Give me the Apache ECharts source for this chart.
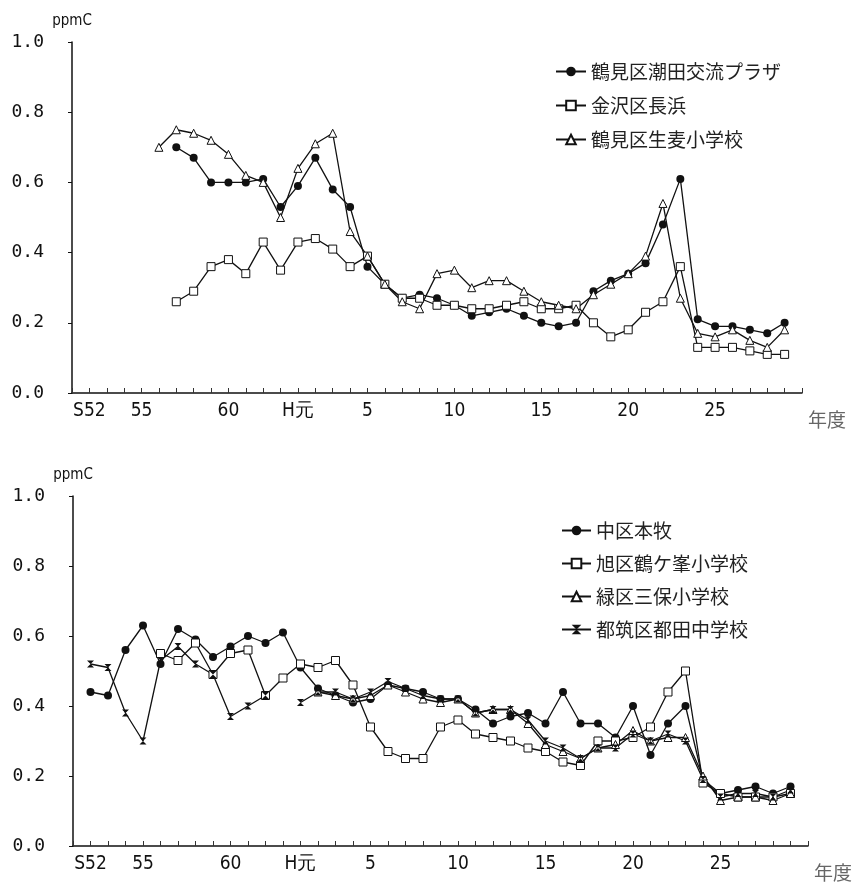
<!DOCTYPE html>
<html>
<head>
<meta charset="utf-8">
<script src="https://cdn.jsdelivr.net/npm/echarts@6/dist/echarts.min.js"></script>
<style>
	html, body { margin: 0; padding: 0; background: #fff; }
	#chart { width: 853px; height: 888px; }
</style>
</head>
<body>
<div id="chart"></div>
<script>
// 年度 (S52 = 1977 ... H29 = 2017)
var years = [1977, 1978, 1979, 1980, 1981, 1982, 1983, 1984, 1985, 1986,
	1987, 1988, 1989, 1990, 1991, 1992, 1993, 1994, 1995, 1996,
	1997, 1998, 1999, 2000, 2001, 2002, 2003, 2004, 2005, 2006,
	2007, 2008, 2009, 2010, 2011, 2012, 2013, 2014, 2015, 2016, 2017];

var tickYears = [1977, 1980, 1985, 1989, 1993, 1998, 2003, 2008, 2013];
var tickLabels = ['S52', '55', '60', 'H元', '5', '10', '15', '20', '25'];

// 上段
var ushioda = [null, null, null, null, null,
	0.70, 0.67, 0.60, 0.60, 0.60, 0.61, 0.53, 0.59, 0.67, 0.58,
	0.53, 0.36, 0.31, 0.27, 0.28, 0.27, 0.25, 0.22, 0.23, 0.24,
	0.22, 0.20, 0.19, 0.20, 0.29, 0.32, 0.34, 0.37, 0.48, 0.61,
	0.21, 0.19, 0.19, 0.18, 0.17, 0.20];
var nagahama = [null, null, null, null, null,
	0.26, 0.29, 0.36, 0.38, 0.34, 0.43, 0.35, 0.43, 0.44, 0.41,
	0.36, 0.39, 0.31, 0.27, 0.27, 0.25, 0.25, 0.24, 0.24, 0.25,
	0.26, 0.24, 0.24, 0.25, 0.20, 0.16, 0.18, 0.23, 0.26, 0.36,
	0.13, 0.13, 0.13, 0.12, 0.11, 0.11];
var namamugi = [null, null, null, null,
	0.70, 0.75, 0.74, 0.72, 0.68, 0.62, 0.60, 0.50, 0.64, 0.71, 0.74,
	0.46, 0.39, 0.31, 0.26, 0.24, 0.34, 0.35, 0.30, 0.32, 0.32,
	0.29, 0.26, 0.25, 0.24, 0.28, 0.31, 0.34, 0.39, 0.54, 0.27,
	0.17, 0.16, 0.18, 0.15, 0.13, 0.18];

// 下段
var honmoku = [0.44, 0.43, 0.56, 0.63, 0.52, 0.62, 0.59, 0.54, 0.57, 0.60,
	0.58, 0.61, 0.51, 0.45, 0.43, 0.41, 0.42, 0.46, 0.45, 0.44,
	0.42, 0.42, 0.39, 0.35, 0.37, 0.38, 0.35, 0.44, 0.35, 0.35,
	0.31, 0.40, 0.26, 0.35, 0.40, 0.19, 0.15, 0.16, 0.17, 0.15, 0.17];
var tsurugamine = [null, null, null, null,
	0.55, 0.53, 0.58, 0.49, 0.55, 0.56,
	0.43, 0.48, 0.52, 0.51, 0.53, 0.46, 0.34, 0.27, 0.25, 0.25,
	0.34, 0.36, 0.32, 0.31, 0.30, 0.28, 0.27, 0.24, 0.23, 0.30,
	0.30, 0.31, 0.34, 0.44, 0.50, 0.18, 0.15, 0.14, 0.14, 0.14, 0.15];
var miho = [null, null, null, null, null, null, null, null, null, null,
	null, null, null, 0.44, 0.43, 0.42, 0.43, 0.46, 0.44, 0.42,
	0.41, 0.42, 0.38, 0.39, 0.39, 0.35, 0.29, 0.27, 0.25, 0.28,
	0.29, 0.33, 0.30, 0.31, 0.31, 0.20, 0.13, 0.14, 0.14, 0.13, 0.15];
var tsuda = [0.52, 0.51, 0.38, 0.30, 0.53, 0.57, 0.52, 0.49, 0.37, 0.40,
	0.43, null, 0.41, 0.44, 0.44, 0.42, 0.44, 0.47, 0.45, 0.43,
	0.42, 0.42, 0.38, 0.39, 0.39, 0.36, 0.30, 0.28, 0.25, 0.28,
	0.28, 0.32, 0.30, 0.32, 0.30, 0.19, 0.14, 0.15, 0.15, 0.14, 0.16];

function toPairs(values) {
	return years.map(function (y, i) { return [y, values[i]]; });
}

function xLabel(v) {
	var idx = tickYears.indexOf(v);
	return idx >= 0 ? tickLabels[idx] : '';
}

var lineColor = '#111';
var hourglass = 'path://M0,0L10,0L0,10L10,10Z';

function makeSeries(name, values, symbol, hollow, size, axisIndex) {
	return {
		name: name,
		type: 'line',
		xAxisIndex: axisIndex,
		yAxisIndex: axisIndex,
		data: toPairs(values),
		symbol: symbol,
		symbolSize: size,
		showAllSymbol: true,
		connectNulls: false,
		lineStyle: { color: lineColor, width: 1.3 },
		itemStyle: hollow
			? { color: '#fff', borderColor: lineColor, borderWidth: 1 }
			: { color: lineColor, borderColor: lineColor, borderWidth: 0 },
		emphasis: { disabled: true },
		z: 3
	};
}

function makeXAxis(gridIndex) {
	return {
		gridIndex: gridIndex,
		type: 'value',
		min: 1976,
		max: 2018,
		interval: 1,
		name: '年度',
		nameLocation: 'end',
		nameGap: 6,
		nameTextStyle: {
			fontFamily: 'Noto Sans CJK JP',
			fontSize: 19,
			color: '#666',
			verticalAlign: 'top',
			padding: [17, 0, 0, 0]
		},
		splitLine: { show: false },
		axisLine: { onZero: false, lineStyle: { color: '#111', width: 1.5 } },
		axisTick: { inside: true, length: 5, lineStyle: { color: '#333', width: 1 } },
		axisLabel: {
			formatter: xLabel,
			margin: 9,
			fontFamily: "'DejaVu Sans Condensed', sans-serif",
			fontSize: 19,
			color: '#111',
			showMinLabel: true,
			showMaxLabel: true
		}
	};
}

function makeYAxis(gridIndex) {
	return {
		gridIndex: gridIndex,
		type: 'value',
		min: 0,
		max: 1,
		interval: 0.2,
		name: 'ppmC',
		nameLocation: 'end',
		nameGap: 13,
		nameTextStyle: {
			fontFamily: 'DejaVu Sans Condensed',
			fontSize: 15,
			color: '#111',
			align: 'center'
		},
		splitLine: { show: false },
		axisLine: { show: true, lineStyle: { color: '#111', width: 1.5 } },
		axisTick: { show: true, length: 4, lineStyle: { color: '#111' } },
		axisLabel: {
			formatter: function (v) { return v.toFixed(1); },
			margin: 28,
			fontFamily: 'DejaVu Sans Mono',
			fontSize: 18,
			color: '#111'
		}
	};
}

var myChart = echarts.init(document.getElementById('chart'), null, { renderer: 'canvas' });

var option = {
	animation: false,
	backgroundColor: '#fff',
	grid: [
		{ left: 72, top: 42, width: 730, height: 351 },
		{ left: 73, top: 496, width: 739, height: 350 }
	],
	xAxis: [makeXAxis(0), makeXAxis(1)],
	yAxis: [makeYAxis(0), makeYAxis(1)],
	legend: [
		{
			orient: 'vertical',
			left: 555,
			top: 62,
			padding: 0,
			itemWidth: 30,
			itemHeight: 12,
			itemGap: 15,
			selectedMode: false,
			textStyle: { fontFamily: 'Noto Sans CJK JP', fontSize: 19, color: '#222' },
			data: ['鶴見区潮田交流プラザ', '金沢区長浜', '鶴見区生麦小学校']
		},
		{
			orient: 'vertical',
			left: 561,
			top: 521,
			padding: 0,
			itemWidth: 29,
			itemHeight: 12,
			itemGap: 14,
			selectedMode: false,
			textStyle: { fontFamily: 'Noto Sans CJK JP', fontSize: 19, color: '#222' },
			data: ['中区本牧', '旭区鶴ケ峯小学校', '緑区三保小学校', '都筑区都田中学校']
		}
	],
	series: [
		makeSeries('鶴見区潮田交流プラザ', ushioda, 'circle', false, 8, 0),
		makeSeries('金沢区長浜', nagahama, 'rect', true, 8, 0),
		makeSeries('鶴見区生麦小学校', namamugi, 'triangle', true, 8, 0),
		makeSeries('中区本牧', honmoku, 'circle', false, 8, 1),
		makeSeries('旭区鶴ケ峯小学校', tsurugamine, 'rect', true, 8, 1),
		makeSeries('緑区三保小学校', miho, 'triangle', true, 8, 1),
		makeSeries('都筑区都田中学校', tsuda, hourglass, false, 7, 1)
	]
};

if (option && typeof option === "object") {
	myChart.setOption(option, true);
}
</script>
</body>
</html>
